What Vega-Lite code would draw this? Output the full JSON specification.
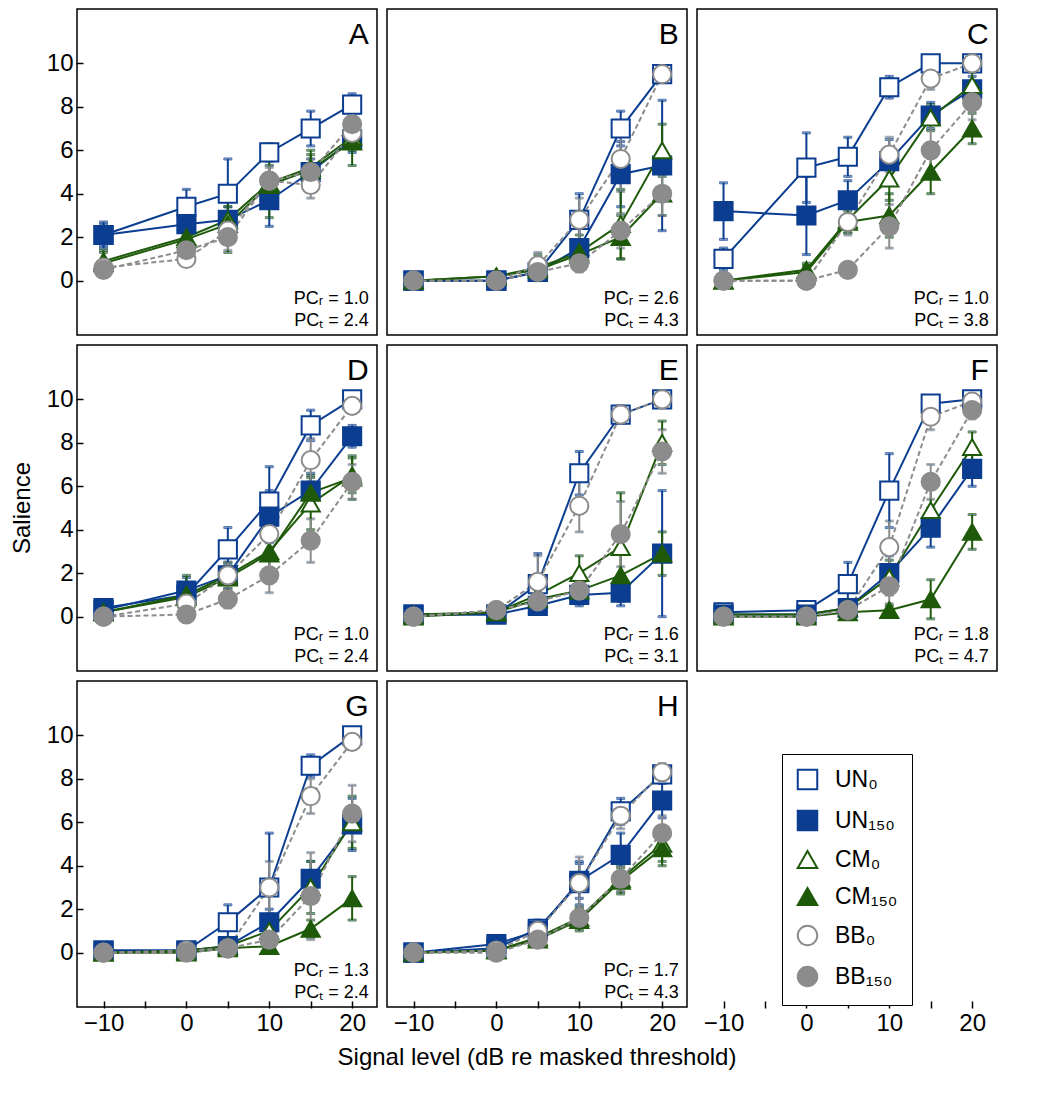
{
  "$schema": "https://vega.github.io/schema/vega-lite/v6.json",
  "background": "white",
  "padding": {"left": 10, "top": 8, "right": 10, "bottom": 5},
  "data": {"values": [
    {"p":"A","s":"UN₀","x":-10,"y":2.1,"e":0.5},{"p":"A","s":"UN₀","x":0,"y":3.4,"e":0.8},{"p":"A","s":"UN₀","x":5,"y":4.0,"e":1.6},{"p":"A","s":"UN₀","x":10,"y":5.9,"e":0.4},{"p":"A","s":"UN₀","x":15,"y":7.0,"e":0.8},{"p":"A","s":"UN₀","x":20,"y":8.1,"e":0.5},
    {"p":"A","s":"UN₁₅₀","x":-10,"y":2.1,"e":0.6},{"p":"A","s":"UN₁₅₀","x":0,"y":2.6,"e":0.5},{"p":"A","s":"UN₁₅₀","x":5,"y":2.8,"e":0.6},{"p":"A","s":"UN₁₅₀","x":10,"y":3.7,"e":1.2},{"p":"A","s":"UN₁₅₀","x":15,"y":5.0,"e":0.6},{"p":"A","s":"UN₁₅₀","x":20,"y":6.5,"e":0.6},
    {"p":"A","s":"CM₀","x":-10,"y":0.9,"e":0.5},{"p":"A","s":"CM₀","x":0,"y":2.0,"e":0.7},{"p":"A","s":"CM₀","x":5,"y":2.8,"e":1.5},{"p":"A","s":"CM₀","x":10,"y":4.5,"e":0.8},{"p":"A","s":"CM₀","x":15,"y":5.2,"e":0.8},{"p":"A","s":"CM₀","x":20,"y":6.6,"e":0.6},
    {"p":"A","s":"CM₁₅₀","x":-10,"y":0.8,"e":0.5},{"p":"A","s":"CM₁₅₀","x":0,"y":1.9,"e":0.6},{"p":"A","s":"CM₁₅₀","x":5,"y":2.6,"e":0.8},{"p":"A","s":"CM₁₅₀","x":10,"y":4.4,"e":1.5},{"p":"A","s":"CM₁₅₀","x":15,"y":5.1,"e":0.7},{"p":"A","s":"CM₁₅₀","x":20,"y":6.4,"e":1.1},
    {"p":"A","s":"BB₀","x":-10,"y":0.6,"e":0.2},{"p":"A","s":"BB₀","x":0,"y":1.0,"e":0.3},{"p":"A","s":"BB₀","x":5,"y":2.3,"e":0.6},{"p":"A","s":"BB₀","x":10,"y":4.6,"e":0.6},{"p":"A","s":"BB₀","x":15,"y":4.4,"e":0.6},{"p":"A","s":"BB₀","x":20,"y":6.8,"e":0.6},
    {"p":"A","s":"BB₁₅₀","x":-10,"y":0.5,"e":0.2},{"p":"A","s":"BB₁₅₀","x":0,"y":1.4,"e":0.4},{"p":"A","s":"BB₁₅₀","x":5,"y":2.0,"e":0.6},{"p":"A","s":"BB₁₅₀","x":10,"y":4.6,"e":0.7},{"p":"A","s":"BB₁₅₀","x":15,"y":5.0,"e":0.6},{"p":"A","s":"BB₁₅₀","x":20,"y":7.2,"e":0.6},

    {"p":"B","s":"UN₀","x":-10,"y":0,"e":0},{"p":"B","s":"UN₀","x":0,"y":0,"e":0},{"p":"B","s":"UN₀","x":5,"y":0.4,"e":0.3},{"p":"B","s":"UN₀","x":10,"y":2.8,"e":1.2},{"p":"B","s":"UN₀","x":15,"y":7.0,"e":0.8},{"p":"B","s":"UN₀","x":20,"y":9.5,"e":0.3},
    {"p":"B","s":"UN₁₅₀","x":-10,"y":0,"e":0},{"p":"B","s":"UN₁₅₀","x":0,"y":0,"e":0},{"p":"B","s":"UN₁₅₀","x":5,"y":0.4,"e":0.3},{"p":"B","s":"UN₁₅₀","x":10,"y":1.5,"e":1.0},{"p":"B","s":"UN₁₅₀","x":15,"y":4.9,"e":1.5},{"p":"B","s":"UN₁₅₀","x":20,"y":5.3,"e":3.0},
    {"p":"B","s":"CM₀","x":-10,"y":0,"e":0},{"p":"B","s":"CM₀","x":0,"y":0.2,"e":0.2},{"p":"B","s":"CM₀","x":5,"y":0.6,"e":0.6},{"p":"B","s":"CM₀","x":10,"y":1.3,"e":0.8},{"p":"B","s":"CM₀","x":15,"y":2.6,"e":1.6},{"p":"B","s":"CM₀","x":20,"y":6.0,"e":1.2},
    {"p":"B","s":"CM₁₅₀","x":-10,"y":0,"e":0},{"p":"B","s":"CM₁₅₀","x":0,"y":0.2,"e":0.2},{"p":"B","s":"CM₁₅₀","x":5,"y":0.5,"e":0.4},{"p":"B","s":"CM₁₅₀","x":10,"y":1.2,"e":0.5},{"p":"B","s":"CM₁₅₀","x":15,"y":2.0,"e":1.0},{"p":"B","s":"CM₁₅₀","x":20,"y":4.0,"e":1.0},
    {"p":"B","s":"BB₀","x":-10,"y":0,"e":0},{"p":"B","s":"BB₀","x":0,"y":0,"e":0},{"p":"B","s":"BB₀","x":5,"y":0.7,"e":0.6},{"p":"B","s":"BB₀","x":10,"y":2.8,"e":1.0},{"p":"B","s":"BB₀","x":15,"y":5.6,"e":1.5},{"p":"B","s":"BB₀","x":20,"y":9.5,"e":0.3},
    {"p":"B","s":"BB₁₅₀","x":-10,"y":0,"e":0},{"p":"B","s":"BB₁₅₀","x":0,"y":0,"e":0},{"p":"B","s":"BB₁₅₀","x":5,"y":0.4,"e":0.3},{"p":"B","s":"BB₁₅₀","x":10,"y":0.8,"e":0.4},{"p":"B","s":"BB₁₅₀","x":15,"y":2.3,"e":0.8},{"p":"B","s":"BB₁₅₀","x":20,"y":4.0,"e":1.0},

    {"p":"C","s":"UN₀","x":-10,"y":1.0,"e":0.5},{"p":"C","s":"UN₀","x":0,"y":5.2,"e":1.6},{"p":"C","s":"UN₀","x":5,"y":5.7,"e":0.9},{"p":"C","s":"UN₀","x":10,"y":8.9,"e":0.5},{"p":"C","s":"UN₀","x":15,"y":10,"e":0},{"p":"C","s":"UN₀","x":20,"y":10,"e":0},
    {"p":"C","s":"UN₁₅₀","x":-10,"y":3.2,"e":1.3},{"p":"C","s":"UN₁₅₀","x":0,"y":3.0,"e":1.8},{"p":"C","s":"UN₁₅₀","x":5,"y":3.7,"e":0.9},{"p":"C","s":"UN₁₅₀","x":10,"y":5.5,"e":1.0},{"p":"C","s":"UN₁₅₀","x":15,"y":7.6,"e":0.6},{"p":"C","s":"UN₁₅₀","x":20,"y":8.8,"e":0.6},
    {"p":"C","s":"CM₀","x":-10,"y":0,"e":0},{"p":"C","s":"CM₀","x":0,"y":0.5,"e":0.3},{"p":"C","s":"CM₀","x":5,"y":2.8,"e":0.6},{"p":"C","s":"CM₀","x":10,"y":4.7,"e":1.0},{"p":"C","s":"CM₀","x":15,"y":7.5,"e":0.6},{"p":"C","s":"CM₀","x":20,"y":9.0,"e":0.6},
    {"p":"C","s":"CM₁₅₀","x":-10,"y":0,"e":0},{"p":"C","s":"CM₁₅₀","x":0,"y":0.4,"e":0.3},{"p":"C","s":"CM₁₅₀","x":5,"y":2.7,"e":0.5},{"p":"C","s":"CM₁₅₀","x":10,"y":3.0,"e":1.0},{"p":"C","s":"CM₁₅₀","x":15,"y":5.0,"e":1.0},{"p":"C","s":"CM₁₅₀","x":20,"y":7.0,"e":0.7},
    {"p":"C","s":"BB₀","x":-10,"y":0,"e":0},{"p":"C","s":"BB₀","x":0,"y":0,"e":0},{"p":"C","s":"BB₀","x":5,"y":2.7,"e":0.6},{"p":"C","s":"BB₀","x":10,"y":5.8,"e":0.8},{"p":"C","s":"BB₀","x":15,"y":9.3,"e":0.5},{"p":"C","s":"BB₀","x":20,"y":10,"e":0},
    {"p":"C","s":"BB₁₅₀","x":-10,"y":0,"e":0},{"p":"C","s":"BB₁₅₀","x":0,"y":0,"e":0},{"p":"C","s":"BB₁₅₀","x":5,"y":0.5,"e":0.2},{"p":"C","s":"BB₁₅₀","x":10,"y":2.5,"e":1.0},{"p":"C","s":"BB₁₅₀","x":15,"y":6.0,"e":1.2},{"p":"C","s":"BB₁₅₀","x":20,"y":8.2,"e":0.8},

    {"p":"D","s":"UN₀","x":-10,"y":0.4,"e":0.2},{"p":"D","s":"UN₀","x":0,"y":1.0,"e":0.5},{"p":"D","s":"UN₀","x":5,"y":3.1,"e":1.0},{"p":"D","s":"UN₀","x":10,"y":5.3,"e":1.6},{"p":"D","s":"UN₀","x":15,"y":8.8,"e":0.7},{"p":"D","s":"UN₀","x":20,"y":10,"e":0},
    {"p":"D","s":"UN₁₅₀","x":-10,"y":0.3,"e":0.2},{"p":"D","s":"UN₁₅₀","x":0,"y":1.2,"e":0.6},{"p":"D","s":"UN₁₅₀","x":5,"y":1.9,"e":0.6},{"p":"D","s":"UN₁₅₀","x":10,"y":4.6,"e":1.2},{"p":"D","s":"UN₁₅₀","x":15,"y":5.8,"e":0.8},{"p":"D","s":"UN₁₅₀","x":20,"y":8.3,"e":0.5},
    {"p":"D","s":"CM₀","x":-10,"y":0.2,"e":0.2},{"p":"D","s":"CM₀","x":0,"y":1.0,"e":0.9},{"p":"D","s":"CM₀","x":5,"y":1.9,"e":0.6},{"p":"D","s":"CM₀","x":10,"y":3.0,"e":1.0},{"p":"D","s":"CM₀","x":15,"y":5.2,"e":1.2},{"p":"D","s":"CM₀","x":20,"y":6.5,"e":0.8},
    {"p":"D","s":"CM₁₅₀","x":-10,"y":0.2,"e":0.2},{"p":"D","s":"CM₁₅₀","x":0,"y":0.9,"e":0.6},{"p":"D","s":"CM₁₅₀","x":5,"y":1.8,"e":0.6},{"p":"D","s":"CM₁₅₀","x":10,"y":2.9,"e":0.8},{"p":"D","s":"CM₁₅₀","x":15,"y":5.7,"e":0.8},{"p":"D","s":"CM₁₅₀","x":20,"y":6.4,"e":1.0},
    {"p":"D","s":"BB₀","x":-10,"y":0,"e":0},{"p":"D","s":"BB₀","x":0,"y":0.6,"e":0.4},{"p":"D","s":"BB₀","x":5,"y":1.9,"e":0.6},{"p":"D","s":"BB₀","x":10,"y":3.8,"e":1.0},{"p":"D","s":"BB₀","x":15,"y":7.2,"e":1.0},{"p":"D","s":"BB₀","x":20,"y":9.7,"e":0.3},
    {"p":"D","s":"BB₁₅₀","x":-10,"y":0,"e":0},{"p":"D","s":"BB₁₅₀","x":0,"y":0.1,"e":0.2},{"p":"D","s":"BB₁₅₀","x":5,"y":0.8,"e":0.4},{"p":"D","s":"BB₁₅₀","x":10,"y":1.9,"e":0.8},{"p":"D","s":"BB₁₅₀","x":15,"y":3.5,"e":1.0},{"p":"D","s":"BB₁₅₀","x":20,"y":6.2,"e":0.8},

    {"p":"E","s":"UN₀","x":-10,"y":0.1,"e":0.1},{"p":"E","s":"UN₀","x":0,"y":0.1,"e":0.1},{"p":"E","s":"UN₀","x":5,"y":1.5,"e":1.4},{"p":"E","s":"UN₀","x":10,"y":6.6,"e":1.0},{"p":"E","s":"UN₀","x":15,"y":9.3,"e":0.3},{"p":"E","s":"UN₀","x":20,"y":10,"e":0},
    {"p":"E","s":"UN₁₅₀","x":-10,"y":0.1,"e":0.1},{"p":"E","s":"UN₁₅₀","x":0,"y":0.1,"e":0.1},{"p":"E","s":"UN₁₅₀","x":5,"y":0.5,"e":0.3},{"p":"E","s":"UN₁₅₀","x":10,"y":1.0,"e":0.5},{"p":"E","s":"UN₁₅₀","x":15,"y":1.1,"e":0.6},{"p":"E","s":"UN₁₅₀","x":20,"y":2.9,"e":2.9},
    {"p":"E","s":"CM₀","x":-10,"y":0.1,"e":0.1},{"p":"E","s":"CM₀","x":0,"y":0.2,"e":0.1},{"p":"E","s":"CM₀","x":5,"y":1.0,"e":0.6},{"p":"E","s":"CM₀","x":10,"y":2.0,"e":0.8},{"p":"E","s":"CM₀","x":15,"y":3.2,"e":2.5},{"p":"E","s":"CM₀","x":20,"y":8.0,"e":1.0},
    {"p":"E","s":"CM₁₅₀","x":-10,"y":0,"e":0},{"p":"E","s":"CM₁₅₀","x":0,"y":0.2,"e":0.1},{"p":"E","s":"CM₁₅₀","x":5,"y":0.8,"e":0.5},{"p":"E","s":"CM₁₅₀","x":10,"y":1.2,"e":0.6},{"p":"E","s":"CM₁₅₀","x":15,"y":1.9,"e":1.0},{"p":"E","s":"CM₁₅₀","x":20,"y":2.9,"e":1.0},
    {"p":"E","s":"BB₀","x":-10,"y":0,"e":0},{"p":"E","s":"BB₀","x":0,"y":0.3,"e":0.2},{"p":"E","s":"BB₀","x":5,"y":1.6,"e":1.2},{"p":"E","s":"BB₀","x":10,"y":5.1,"e":1.2},{"p":"E","s":"BB₀","x":15,"y":9.3,"e":0.4},{"p":"E","s":"BB₀","x":20,"y":10,"e":0},
    {"p":"E","s":"BB₁₅₀","x":-10,"y":0,"e":0},{"p":"E","s":"BB₁₅₀","x":0,"y":0.3,"e":0.2},{"p":"E","s":"BB₁₅₀","x":5,"y":0.7,"e":0.4},{"p":"E","s":"BB₁₅₀","x":10,"y":1.2,"e":0.6},{"p":"E","s":"BB₁₅₀","x":15,"y":3.8,"e":1.5},{"p":"E","s":"BB₁₅₀","x":20,"y":7.6,"e":1.0},

    {"p":"F","s":"UN₀","x":-10,"y":0.2,"e":0.1},{"p":"F","s":"UN₀","x":0,"y":0.3,"e":0.2},{"p":"F","s":"UN₀","x":5,"y":1.5,"e":1.0},{"p":"F","s":"UN₀","x":10,"y":5.8,"e":1.7},{"p":"F","s":"UN₀","x":15,"y":9.8,"e":0.3},{"p":"F","s":"UN₀","x":20,"y":10,"e":0},
    {"p":"F","s":"UN₁₅₀","x":-10,"y":0.1,"e":0.1},{"p":"F","s":"UN₁₅₀","x":0,"y":0.1,"e":0.1},{"p":"F","s":"UN₁₅₀","x":5,"y":0.4,"e":0.3},{"p":"F","s":"UN₁₅₀","x":10,"y":2.0,"e":0.8},{"p":"F","s":"UN₁₅₀","x":15,"y":4.1,"e":0.9},{"p":"F","s":"UN₁₅₀","x":20,"y":6.8,"e":0.8},
    {"p":"F","s":"CM₀","x":-10,"y":0.1,"e":0.1},{"p":"F","s":"CM₀","x":0,"y":0.1,"e":0.1},{"p":"F","s":"CM₀","x":5,"y":0.4,"e":0.3},{"p":"F","s":"CM₀","x":10,"y":1.8,"e":0.8},{"p":"F","s":"CM₀","x":15,"y":4.9,"e":1.0},{"p":"F","s":"CM₀","x":20,"y":7.8,"e":0.7},
    {"p":"F","s":"CM₁₅₀","x":-10,"y":0,"e":0},{"p":"F","s":"CM₁₅₀","x":0,"y":0,"e":0},{"p":"F","s":"CM₁₅₀","x":5,"y":0.2,"e":0.1},{"p":"F","s":"CM₁₅₀","x":10,"y":0.3,"e":0.2},{"p":"F","s":"CM₁₅₀","x":15,"y":0.8,"e":0.9},{"p":"F","s":"CM₁₅₀","x":20,"y":3.9,"e":0.8},
    {"p":"F","s":"BB₀","x":-10,"y":0,"e":0},{"p":"F","s":"BB₀","x":0,"y":0,"e":0},{"p":"F","s":"BB₀","x":5,"y":0.3,"e":0.2},{"p":"F","s":"BB₀","x":10,"y":3.2,"e":1.2},{"p":"F","s":"BB₀","x":15,"y":9.2,"e":0.6},{"p":"F","s":"BB₀","x":20,"y":9.9,"e":0.2},
    {"p":"F","s":"BB₁₅₀","x":-10,"y":0,"e":0},{"p":"F","s":"BB₁₅₀","x":0,"y":0,"e":0},{"p":"F","s":"BB₁₅₀","x":5,"y":0.3,"e":0.2},{"p":"F","s":"BB₁₅₀","x":10,"y":1.4,"e":0.8},{"p":"F","s":"BB₁₅₀","x":15,"y":6.2,"e":0.8},{"p":"F","s":"BB₁₅₀","x":20,"y":9.5,"e":0.4},

    {"p":"G","s":"UN₀","x":-10,"y":0.1,"e":0.1},{"p":"G","s":"UN₀","x":0,"y":0.1,"e":0.1},{"p":"G","s":"UN₀","x":5,"y":1.4,"e":0.8},{"p":"G","s":"UN₀","x":10,"y":3.0,"e":2.5},{"p":"G","s":"UN₀","x":15,"y":8.6,"e":0.5},{"p":"G","s":"UN₀","x":20,"y":10,"e":0},
    {"p":"G","s":"UN₁₅₀","x":-10,"y":0.1,"e":0.1},{"p":"G","s":"UN₁₅₀","x":0,"y":0.1,"e":0.1},{"p":"G","s":"UN₁₅₀","x":5,"y":0.3,"e":0.2},{"p":"G","s":"UN₁₅₀","x":10,"y":1.4,"e":0.6},{"p":"G","s":"UN₁₅₀","x":15,"y":3.4,"e":0.8},{"p":"G","s":"UN₁₅₀","x":20,"y":5.9,"e":1.2},
    {"p":"G","s":"CM₀","x":-10,"y":0,"e":0},{"p":"G","s":"CM₀","x":0,"y":0.1,"e":0.1},{"p":"G","s":"CM₀","x":5,"y":0.3,"e":0.2},{"p":"G","s":"CM₀","x":10,"y":1.0,"e":0.6},{"p":"G","s":"CM₀","x":15,"y":3.0,"e":1.2},{"p":"G","s":"CM₀","x":20,"y":6.0,"e":1.2},
    {"p":"G","s":"CM₁₅₀","x":-10,"y":0,"e":0},{"p":"G","s":"CM₁₅₀","x":0,"y":0,"e":0},{"p":"G","s":"CM₁₅₀","x":5,"y":0.2,"e":0.1},{"p":"G","s":"CM₁₅₀","x":10,"y":0.3,"e":0.2},{"p":"G","s":"CM₁₅₀","x":15,"y":1.1,"e":0.4},{"p":"G","s":"CM₁₅₀","x":20,"y":2.5,"e":1.0},
    {"p":"G","s":"BB₀","x":-10,"y":0,"e":0},{"p":"G","s":"BB₀","x":0,"y":0.1,"e":0.1},{"p":"G","s":"BB₀","x":5,"y":0.2,"e":0.1},{"p":"G","s":"BB₀","x":10,"y":3.0,"e":1.2},{"p":"G","s":"BB₀","x":15,"y":7.2,"e":0.8},{"p":"G","s":"BB₀","x":20,"y":9.7,"e":0.3},
    {"p":"G","s":"BB₁₅₀","x":-10,"y":0,"e":0},{"p":"G","s":"BB₁₅₀","x":0,"y":0,"e":0},{"p":"G","s":"BB₁₅₀","x":5,"y":0.2,"e":0.1},{"p":"G","s":"BB₁₅₀","x":10,"y":0.6,"e":0.4},{"p":"G","s":"BB₁₅₀","x":15,"y":2.6,"e":2.0},{"p":"G","s":"BB₁₅₀","x":20,"y":6.4,"e":1.3},

    {"p":"H","s":"UN₀","x":-10,"y":0,"e":0},{"p":"H","s":"UN₀","x":0,"y":0.2,"e":0.1},{"p":"H","s":"UN₀","x":5,"y":1.1,"e":0.4},{"p":"H","s":"UN₀","x":10,"y":3.2,"e":1.0},{"p":"H","s":"UN₀","x":15,"y":6.5,"e":0.6},{"p":"H","s":"UN₀","x":20,"y":8.2,"e":0.4},
    {"p":"H","s":"UN₁₅₀","x":-10,"y":0,"e":0},{"p":"H","s":"UN₁₅₀","x":0,"y":0.4,"e":0.2},{"p":"H","s":"UN₁₅₀","x":5,"y":1.0,"e":0.4},{"p":"H","s":"UN₁₅₀","x":10,"y":3.3,"e":0.8},{"p":"H","s":"UN₁₅₀","x":15,"y":4.5,"e":1.0},{"p":"H","s":"UN₁₅₀","x":20,"y":7.0,"e":0.8},
    {"p":"H","s":"CM₀","x":-10,"y":0,"e":0},{"p":"H","s":"CM₀","x":0,"y":0.1,"e":0.1},{"p":"H","s":"CM₀","x":5,"y":0.7,"e":0.4},{"p":"H","s":"CM₀","x":10,"y":1.6,"e":0.5},{"p":"H","s":"CM₀","x":15,"y":3.4,"e":0.6},{"p":"H","s":"CM₀","x":20,"y":5.0,"e":0.8},
    {"p":"H","s":"CM₁₅₀","x":-10,"y":0,"e":0},{"p":"H","s":"CM₁₅₀","x":0,"y":0.1,"e":0.1},{"p":"H","s":"CM₁₅₀","x":5,"y":0.6,"e":0.3},{"p":"H","s":"CM₁₅₀","x":10,"y":1.5,"e":0.5},{"p":"H","s":"CM₁₅₀","x":15,"y":3.3,"e":0.6},{"p":"H","s":"CM₁₅₀","x":20,"y":4.8,"e":0.8},
    {"p":"H","s":"BB₀","x":-10,"y":0,"e":0},{"p":"H","s":"BB₀","x":0,"y":0.1,"e":0.1},{"p":"H","s":"BB₀","x":5,"y":1.0,"e":0.4},{"p":"H","s":"BB₀","x":10,"y":3.2,"e":1.2},{"p":"H","s":"BB₀","x":15,"y":6.3,"e":0.6},{"p":"H","s":"BB₀","x":20,"y":8.3,"e":0.4},
    {"p":"H","s":"BB₁₅₀","x":-10,"y":0,"e":0},{"p":"H","s":"BB₁₅₀","x":0,"y":0,"e":0},{"p":"H","s":"BB₁₅₀","x":5,"y":0.6,"e":0.3},{"p":"H","s":"BB₁₅₀","x":10,"y":1.6,"e":0.5},{"p":"H","s":"BB₁₅₀","x":15,"y":3.4,"e":0.6},{"p":"H","s":"BB₁₅₀","x":20,"y":5.5,"e":0.8},

    {"p":"A","k":"lab","pr":"PCᵣ = 1.0","pt":"PCₜ = 2.4"},
    {"p":"B","k":"lab","pr":"PCᵣ = 2.6","pt":"PCₜ = 4.3"},
    {"p":"C","k":"lab","pr":"PCᵣ = 1.0","pt":"PCₜ = 3.8"},
    {"p":"D","k":"lab","pr":"PCᵣ = 1.0","pt":"PCₜ = 2.4"},
    {"p":"E","k":"lab","pr":"PCᵣ = 1.6","pt":"PCₜ = 3.1"},
    {"p":"F","k":"lab","pr":"PCᵣ = 1.8","pt":"PCₜ = 4.7"},
    {"p":"G","k":"lab","pr":"PCᵣ = 1.3","pt":"PCₜ = 2.4"},
    {"p":"H","k":"lab","pr":"PCᵣ = 1.7","pt":"PCₜ = 4.3"}
  ]},
  "transform": [
    {"calculate": "floor(indexof('ABCDEFGH', datum.p) / 3)", "as": "row"},
    {"calculate": "indexof('ABCDEFGH', datum.p) % 3", "as": "col"}
  ],
  "facet": {
    "row": {"field": "row", "type": "ordinal", "header": {"labelExpr": "''", "labelPadding": 0, "title": "Salience", "titlePadding": 0}},
    "column": {"field": "col", "type": "ordinal", "header": {"labelExpr": "''", "labelPadding": 0, "labelOrient": "bottom", "titleOrient": "bottom", "title": "Signal level (dB re masked threshold)", "titlePadding": 0}}
  },
  "spacing": 8,
  "spec": {
    "width": 300,
    "height": 326,
    "layer": [
      {
        "transform": [{"filter": "datum.k == 'lab'"}],
        "mark": {"type": "rect", "fill": null, "stroke": "black", "strokeWidth": 1.5},
        "encoding": {"x": {"datum": -13.2, "type": "quantitative"}, "x2": {"datum": 23}, "y": {"datum": -2.5, "type": "quantitative"}, "y2": {"datum": 12.5}}
      },
      {
        "transform": [{"filter": "datum.s != null"}],
        "mark": {"type": "errorbar", "ticks": {"size": 8}, "thickness": 2},
        "encoding": {
          "x": {"field": "x", "type": "quantitative", "title": null},
          "y": {"field": "y", "type": "quantitative", "title": null},
          "yError": {"field": "e"},
          "stroke": {"field": "s", "type": "nominal", "title": null}
        }
      },
      {
        "transform": [{"filter": "datum.s != null && indexof(datum.s, 'BB') < 0"}],
        "mark": {"type": "line", "strokeWidth": 2},
        "encoding": {
          "x": {"field": "x", "type": "quantitative", "title": null},
          "y": {"field": "y", "type": "quantitative", "title": null},
          "stroke": {"field": "s", "type": "nominal", "title": null}
        }
      },
      {
        "transform": [{"filter": "datum.s != null && indexof(datum.s, 'BB') == 0"}],
        "mark": {"type": "line", "strokeWidth": 2, "strokeDash": [5, 3]},
        "encoding": {
          "x": {"field": "x", "type": "quantitative", "title": null},
          "y": {"field": "y", "type": "quantitative", "title": null},
          "stroke": {"field": "s", "type": "nominal", "title": null}
        }
      },
      {
        "transform": [{"filter": "datum.s != null"}],
        "mark": {"type": "point", "size": 330, "strokeWidth": 2, "opacity": 1},
        "encoding": {
          "x": {"field": "x", "type": "quantitative", "title": null, "scale": {"domain": [-13.2, 23], "nice": false, "zero": false},
            "axis": {"title": null, "values": [-10, -5, 0, 5, 10, 15, 20], "labelExpr": "datum.value % 10 == 0 ? replace(datum.label, '-', '−') : ''"}},
          "y": {"field": "y", "type": "quantitative", "title": null, "scale": {"domain": [-2.5, 12.5], "nice": false},
            "axis": {"title": null, "values": [0, 2, 4, 6, 8, 10]}},
          "stroke": {"field": "s", "type": "nominal", "title": null,
            "scale": {"domain": ["UN₀", "UN₁₅₀", "CM₀", "CM₁₅₀", "BB₀", "BB₁₅₀"], "range": ["#0b3d91", "#0b3d91", "#1e5a0a", "#1e5a0a", "#8c8c8c", "#8c8c8c"]},
            "legend": {"orient": "none", "legendX": 705, "legendY": 745}},
          "fill": {"field": "s", "type": "nominal", "title": null,
            "scale": {"domain": ["UN₀", "UN₁₅₀", "CM₀", "CM₁₅₀", "BB₀", "BB₁₅₀"], "range": ["white", "#0b3d91", "white", "#1e5a0a", "white", "#8c8c8c"]}},
          "shape": {"field": "s", "type": "nominal", "title": null,
            "scale": {"domain": ["UN₀", "UN₁₅₀", "CM₀", "CM₁₅₀", "BB₀", "BB₁₅₀"], "range": ["square", "square", "triangle-up", "triangle-up", "circle", "circle"]}}
        }
      },
      {
        "transform": [{"filter": "datum.k == 'lab'"}],
        "mark": {"type": "text", "align": "right", "baseline": "middle", "fontSize": 30},
        "encoding": {"x": {"datum": 22, "type": "quantitative"}, "y": {"datum": 11.3, "type": "quantitative"}, "text": {"field": "p"}}
      },
      {
        "transform": [{"filter": "datum.k == 'lab'"}],
        "mark": {"type": "text", "align": "right", "baseline": "middle", "fontSize": 18},
        "encoding": {"x": {"datum": 22, "type": "quantitative"}, "y": {"datum": -0.85, "type": "quantitative"}, "text": {"field": "pr"}}
      },
      {
        "transform": [{"filter": "datum.k == 'lab'"}],
        "mark": {"type": "text", "align": "right", "baseline": "middle", "fontSize": 18},
        "encoding": {"x": {"datum": 22, "type": "quantitative"}, "y": {"datum": -1.85, "type": "quantitative"}, "text": {"field": "pt"}}
      }
    ]
  },
  "config": {
    "font": "Liberation Sans",
    "view": {"stroke": null},
    "header": {"titleFontSize": 24, "titleFontWeight": "normal", "titleColor": "black", "labelFontSize": 1},
    "axis": {"grid": false, "domain": false, "tickSize": -7, "tickColor": "black", "tickWidth": 1.5,
      "labelFontSize": 24, "labelColor": "black", "labelPadding": 10},
    "legend": {"strokeColor": "black", "padding": 14, "fillColor": "white", "symbolOpacity": 1,
      "labelFontSize": 23, "labelColor": "black", "symbolSize": 380, "symbolStrokeWidth": 2, "rowPadding": 12, "labelOffset": 16}
  }
}
